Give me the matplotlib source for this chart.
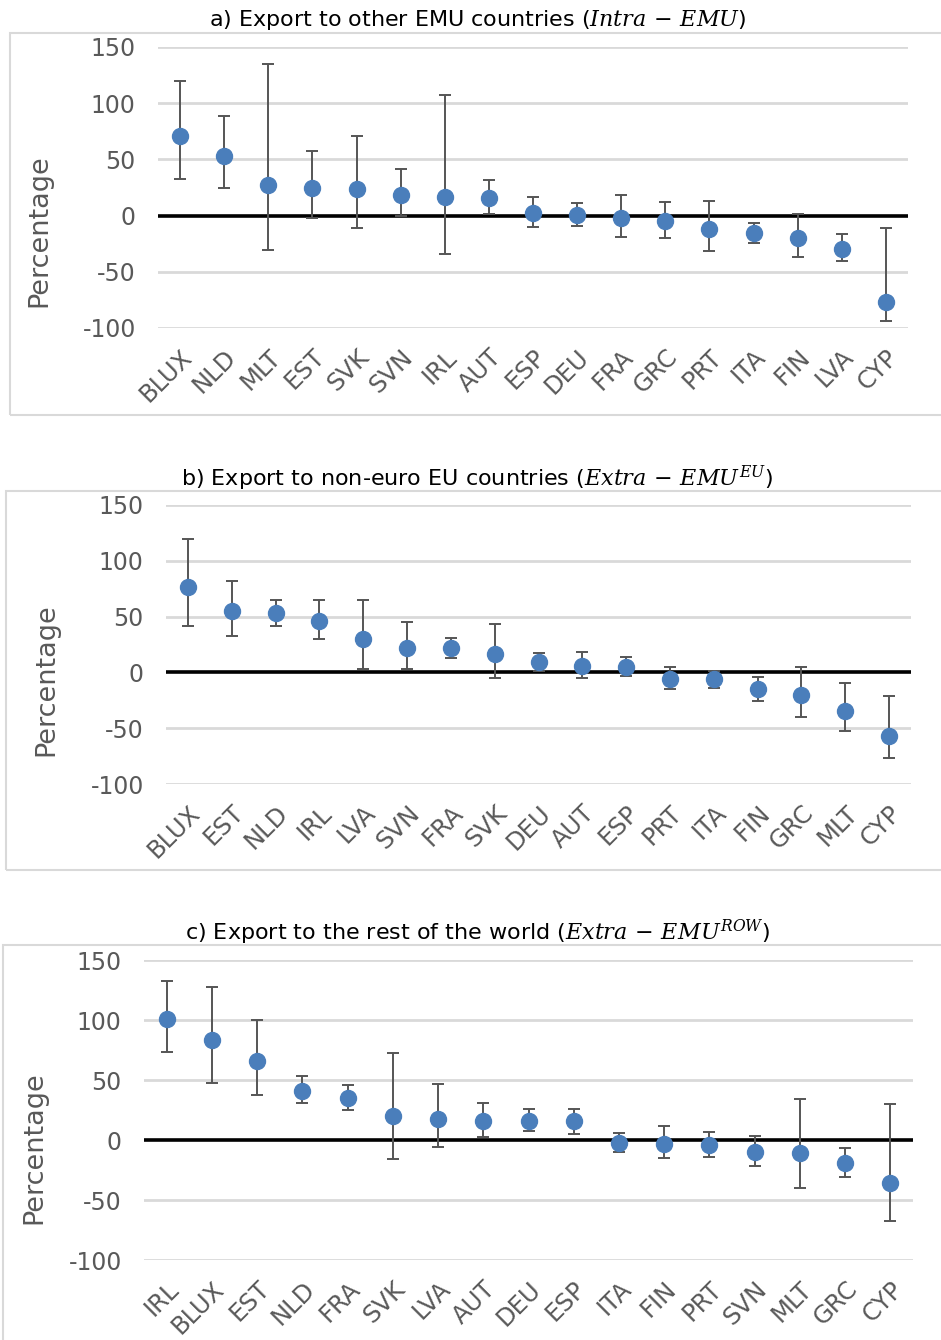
import matplotlib
matplotlib.use("Agg")
import matplotlib.pyplot as plt
from matplotlib.patches import Rectangle
import numpy as np

plt.rcParams['font.family'] = ['DejaVu Sans']
plt.rcParams['mathtext.fontset'] = 'dejavuserif'
plt.rcParams['axes.unicode_minus'] = False

# ---- Data ----
countries_a = ["BLUX", "NLD", "MLT", "EST", "SVK", "SVN", "IRL", "AUT", "ESP",
               "DEU", "FRA", "GRC", "PRT", "ITA", "FIN", "LVA", "CYP"]
values_a = [70.4, 53.3, 27.5, 24.6, 23.4, 18.6, 16.9, 15.4, 2.7,
            0.3, -2.1, -5.0, -12.1, -15.7, -19.5, -29.3, -77.2]
upper_a = [119.5, 88.5, 134.6, 57.4, 70.7, 41.4, 107.0, 31.7, 16.3,
           11.2, 18.3, 11.8, 13.0, -6.8, 1.5, -16.6, -11.2]
lower_a = [32.5, 24.3, -30.8, -1.8, -10.7, -0.6, -34.0, 1.5, -10.4,
           -9.5, -19.2, -19.5, -31.7, -24.0, -36.4, -40.2, -94.0]

countries_b = ["BLUX", "EST", "NLD", "IRL", "LVA", "SVN", "FRA", "SVK", "DEU",
               "AUT", "ESP", "PRT", "ITA", "FIN", "GRC", "MLT", "CYP"]
values_b = [76.3, 55.3, 52.9, 46.4, 30.2, 22.1, 21.8, 16.4, 9.0,
            6.0, 4.5, -5.7, -6.3, -15.0, -20.6, -34.4, -57.1]
upper_b = [119.9, 81.6, 64.6, 65.2, 64.6, 44.9, 30.8, 43.1, 17.3,
           17.9, 13.5, 4.5, 1.2, -4.2, 4.8, -9.3, -21.5]
lower_b = [41.3, 32.9, 41.9, 29.6, 3.0, 3.0, 13.2, -4.8, 1.5,
           -5.4, -3.6, -14.7, -13.8, -25.4, -40.4, -52.3, -76.6]

countries_c = ["IRL", "BLUX", "EST", "NLD", "FRA", "SVK", "LVA", "AUT", "DEU",
               "ESP", "ITA", "FIN", "PRT", "SVN", "MLT", "GRC", "CYP"]
values_c = [100.6, 83.0, 65.6, 41.1, 35.3, 20.3, 17.5, 16.1, 16.1,
            15.6, -2.5, -3.1, -4.2, -10.0, -10.6, -19.4, -35.6]
upper_c = [132.5, 127.5, 100.3, 53.0, 46.1, 72.5, 46.9, 31.1, 25.8,
           26.1, 5.8, 11.7, 6.4, 3.6, 34.2, -6.4, 29.7]
lower_c = [73.0, 47.2, 37.2, 30.6, 25.3, -15.8, -5.8, 2.8, 7.2,
           5.3, -10.3, -15.3, -14.2, -21.9, -40.0, -30.6, -67.8]

titles = [r"a) Export to other EMU countries ($\mathit{Intra}\,-\,\mathit{EMU}$)",
          r"b) Export to non-euro EU countries ($\mathit{Extra}\,-\,\mathit{EMU}^{\mathit{EU}}$)",
          r"c) Export to the rest of the world ($\mathit{Extra}\,-\,\mathit{EMU}^{\mathit{ROW}}$)"]
yticks = [-100, -50, 0, 50, 100, 150]
ytick_labels = ["-100", "-50", "0", "50", "100", "150"]
ylabel = "Percentage"

# ---- Layout (pixels) ----
W, H = 941, 1340
fig = plt.figure(figsize=(W / 100, H / 100), dpi=100)

def fx(px):
    return px / W

def fy(py):
    return 1 - py / H

panels = [
    dict(c=countries_a, v=values_a, u=upper_a, l=lower_a,
         ax=(158, 908, 47, 328), box=(10, 33, 415), title_xy=(478, 20), lab=(-106, 0.345)),
    dict(c=countries_b, v=values_b, u=upper_b, l=lower_b,
         ax=(166, 911, 505, 784), box=(6, 491, 870), title_xy=(477, 478), lab=(-107, 0.373)),
    dict(c=countries_c, v=values_c, u=upper_c, l=lower_c,
         ax=(144, 913, 960, 1260), box=(3, 945, 1345), title_xy=(478, 932), lab=(-97, 0.373)),
]

grid_col = "#d9d9d9"
tick_col = "#595959"
marker_col = "#4a7ebb"
err_col = "#555555"

for i, p in enumerate(panels):
    x0, x1, y0, y1 = p["ax"]
    ax = fig.add_axes([fx(x0), fy(y1), fx(x1) - fx(x0), fy(y0) - fy(y1)])
    n = len(p["c"])
    x = np.arange(n)
    v = np.array(p["v"])
    yerr = np.vstack([v - np.array(p["l"]), np.array(p["u"]) - v])
    ax.set_xlim(-0.5, n - 0.5)
    ax.set_ylim(-100, 150)
    for t in yticks:
        if t != 0:
            ax.axhline(t, color=grid_col, lw=2, zorder=0)
    ax.axhline(0, color="black", lw=2.6, zorder=1)
    ax.errorbar(x, v, yerr=yerr, fmt="o", color=marker_col, ms=11.5,
                ecolor=err_col, elinewidth=1.4, capsize=4, capthick=1.4,
                zorder=3, clip_on=False)
    for s in ax.spines.values():
        s.set_visible(False)
    ax.set_yticks(yticks)
    ax.set_yticklabels(ytick_labels, fontsize=17, color=tick_col)
    ax.set_xticks(x)
    ax.set_xticklabels(p["c"], fontsize=17.5, color=tick_col, rotation=45,
                       ha="right", rotation_mode="anchor")
    ax.tick_params(axis="y", length=0, pad=16)
    ax.tick_params(axis="x", length=0, pad=12)
    ax.set_ylabel(ylabel, fontsize=19.5, color=tick_col)
    ax.yaxis.set_label_coords(p["lab"][0] / (x1 - x0), p["lab"][1])
    ax.patch.set_alpha(0)

    bx, by0, by1 = p["box"]
    fig.patches.append(Rectangle((fx(bx), fy(by1)), 1.2, fy(by0) - fy(by1),
                                 transform=fig.transFigure, fill=False,
                                 edgecolor=grid_col, lw=1.5, zorder=0))
    tx, ty = p["title_xy"]
    fig.text(fx(tx), fy(ty), titles[i], ha="center", va="center",
             fontsize=16, color="black")

fig.savefig("out.png", dpi=100)
